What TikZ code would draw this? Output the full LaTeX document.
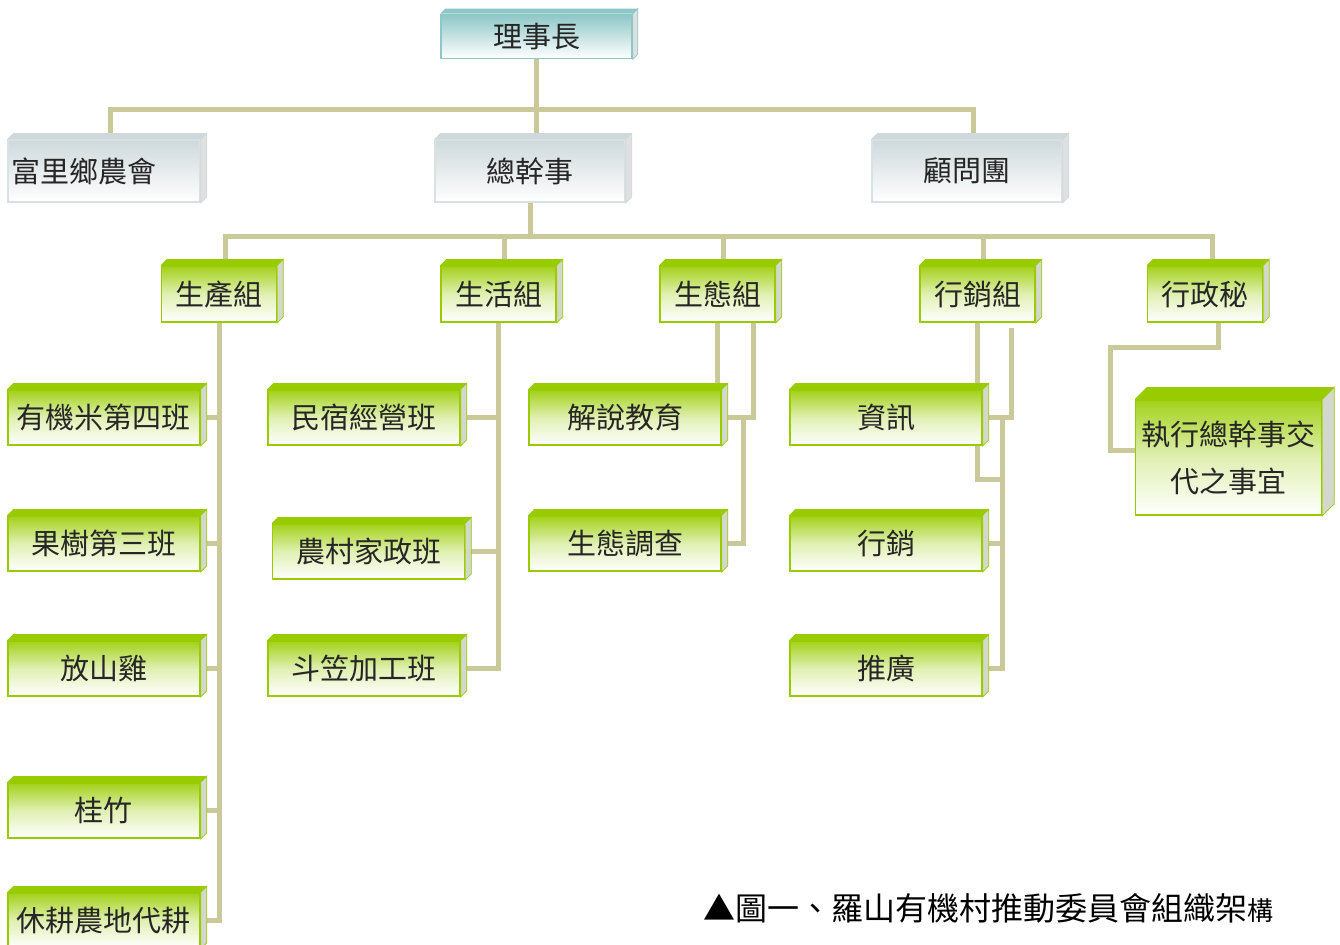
\documentclass[tikz,border=0pt]{standalone}
\usepackage{fontspec}
\setmainfont{Noto Sans CJK TC}
\usetikzlibrary{positioning,backgrounds}
\definecolor{linetan}{HTML}{C9C99A}
\definecolor{leafgreen}{HTML}{99CC00}
\definecolor{chiefteal}{HTML}{8EC7C7}
\definecolor{unitgray}{HTML}{CFD9DC}
\definecolor{sidegray}{HTML}{D4D8CC}
\tikzset{conn/.style={draw=linetan, line width=2.5pt},
         boxfont/.style={font=\fontsize{14.5pt}{17pt}\selectfont, text=black!85},
         greenbox/.style={boxfont, draw=leafgreen, line width=0.8pt, inner sep=3pt,
           top color=leafgreen!90, bottom color=white, middle color=leafgreen!30},
         grp/.style={greenbox, minimum width=57.5pt, minimum height=28pt},
         leaf/.style={greenbox, minimum width=96pt, minimum height=27.5pt},
         unit/.style={boxfont, draw=unitgray!80, line width=0.8pt, inner sep=3pt,
           top color=unitgray, bottom color=white, minimum width=95pt, minimum height=31pt},
         chief/.style={boxfont, draw=chiefteal, line width=0.8pt, inner sep=3pt,
           top color=chiefteal, bottom color=white, minimum width=95.5pt, minimum height=22pt}}

\begin{document}
\begin{tikzpicture}[x=0.5pt,y=-0.5pt]
  \useasboundingbox (0,0) rectangle (1340,944);
  % top levels
  \node[chief] (boss) at (536.5,36.5) {理事長};
  \node[unit, inner xsep=1.5pt, text width=93pt, align=left] (farm) at (104,171) {富里鄉農會};
  \node[unit] (gm) at (530,171) {總幹事};
  \node[unit] (adv) at (967,171) {顧問團};
  % groups
  \node[grp] (prod) at (219,294) {生產組};
  \node[grp] (life) at (498.5,294) {生活組};
  \node[grp] (eco) at (717.5,294) {生態組};
  \node[grp] (mkt) at (977.5,294) {行銷組};
  \node[grp] (admin) at (1205,294) {行政秘};
  % leaves
  \node[leaf] (a1) at (104,417.5) {有機米第四班};
  \node[leaf] (a2) at (104,543.5) {果樹第三班};
  \node[leaf] (a3) at (104,668.5) {放山雞};
  \node[leaf] (a4) at (104,810.5) {桂竹};
  \node[leaf] (a5) at (104,920.5) {休耕農地代耕};
  \node[leaf] (b1) at (364,417.5) {民宿經營班};
  \node[leaf] (b2) at (368.5,551.5) {農村家政班};
  \node[leaf] (b3) at (364,668.5) {斗笠加工班};
  \node[leaf] (c1) at (625,417.5) {解說教育};
  \node[leaf] (c2) at (625,543.5) {生態調查};
  \node[leaf] (d1) at (886,417.5) {資訊};
  \node[leaf] (d2) at (886,543.5) {行銷};
  \node[leaf] (d3) at (886,668.5) {推廣};
  \node[leaf, minimum width=91.5pt, minimum height=57.5pt, align=center,
        font=\fontsize{14.5pt}{23.5pt}\selectfont] (task) at (1228.5,457.5) {執行總幹事交\\代之事宜};
  \coordinate (mjoin) at ([xshift=10pt]d1.east);

  % 3d faces
  \foreach \n in {prod,life,eco,mkt,admin,a1,a2,a3,a4,a5,b1,b2,b3,c1,c2,d1,d2,d3} {
    \fill[leafgreen] (\n.north west) -- ++(3pt,3pt) -- ([shift={(3pt,3pt)}]\n.north east) -- (\n.north east) -- cycle;
    \filldraw[draw=leafgreen, fill=sidegray] (\n.north east) -- ++(3pt,3pt) -- ([shift={(3pt,3pt)}]\n.south east) -- (\n.south east) -- cycle;
  }
  \fill[leafgreen] (task.north west) -- ++(6pt,6pt) -- ([shift={(6pt,6pt)}]task.north east) -- (task.north east) -- cycle;
  \filldraw[draw=leafgreen, fill=sidegray] (task.north east) -- ++(6pt,6pt) -- ([shift={(6pt,6pt)}]task.south east) -- (task.south east) -- cycle;
  \foreach \n in {farm,gm,adv} {
    \fill[unitgray] (\n.north west) -- ++(3pt,3pt) -- ([shift={(3pt,3pt)}]\n.north east) -- (\n.north east) -- cycle;
    \filldraw[draw=unitgray, fill=black!12] (\n.north east) -- ++(3pt,3pt) -- ([shift={(3pt,3pt)}]\n.south east) -- (\n.south east) -- cycle;
  }
  \fill[chiefteal] (boss.north west) -- ++(2.5pt,2.5pt) -- ([shift={(2.5pt,2.5pt)}]boss.north east) -- (boss.north east) -- cycle;
  \filldraw[draw=chiefteal, fill=black!12] (boss.north east) -- ++(2.5pt,2.5pt) -- ([shift={(2.5pt,2.5pt)}]boss.south east) -- (boss.south east) -- cycle;

  % connectors
  \begin{scope}[on background layer]
    \draw[conn] (boss.south) -- (boss.south |- gm.north);
    \draw[conn] ([xshift=3pt]farm.north) -- ++(0,-30) -| ([xshift=3pt]adv.north);
    \draw[conn] (gm.south) -- ++(0,35);
    \draw[conn] ([xshift=3pt]prod.north) -- ++(0,-29) -| ([xshift=3.5pt]admin.north);
    \foreach \n in {life,eco,mkt}
      \draw[conn] ([xshift=3pt]\n.north) -- ++(0,-29);
    \foreach \n in {a1,a2,a3,a4,a5}
      \draw[conn] (prod.south) |- (\n.east);
    \foreach \n in {b1,b2,b3}
      \draw[conn] (life.south) |- (\n.east);
    \draw[conn] (eco.south) -- (eco.south |- c1.north);
    \draw[conn] ([xshift=18pt]eco.south) |- (c1.east);
    \draw[conn] ([xshift=11pt]c1.east) |- (c2.east);
    \draw[conn] (mkt.south) |- ([yshift=-31pt]mjoin);
    \draw[conn] ([shift={(16.75pt,-2.5pt)}]mkt.south) |- (d1.east);
    \draw[conn] (mjoin) |- (d3.east);
    \draw[conn] (mjoin |- d2.east) -- (d2.east);
    \draw[conn] ([xshift=6.5pt]admin.south) -- ++(0,25) -| ([shift={(-12pt,3.5pt)}]task.west) -- ([yshift=3.5pt]task.west);
  \end{scope}

  \node[font=\fontsize{16pt}{19pt}\selectfont] (caption) at (988,908) {▲圖一、羅山有機村推動委員會組織架{\fontsize{13pt}{15pt}\selectfont 構}};
\end{tikzpicture}
\end{document}
